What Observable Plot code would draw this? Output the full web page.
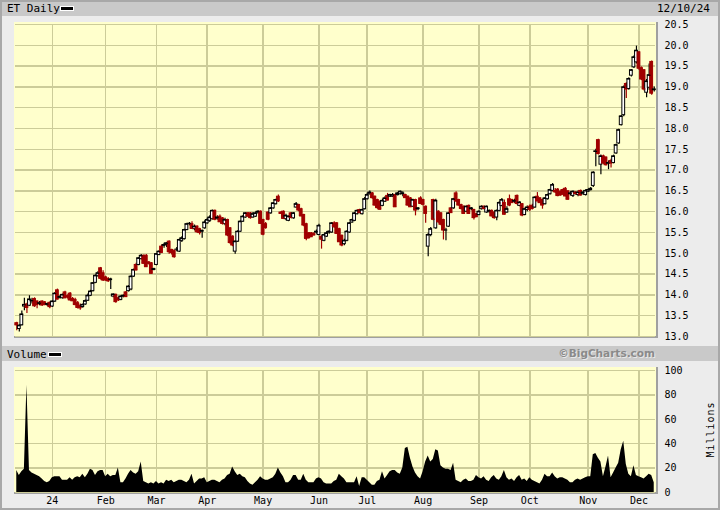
<!DOCTYPE html>
<html><head><meta charset="utf-8">
<script src="https://cdn.jsdelivr.net/npm/d3@7"></script>
<script src="https://cdn.jsdelivr.net/npm/@observablehq/plot@0.6"></script>
<style>
html,body{margin:0;padding:0;background:#ececec;}
#root{position:relative;width:720px;height:510px;overflow:hidden;background:#ececec;font-family:"DejaVu Sans Mono",monospace;font-size:10px;color:#000;}
.abs{position:absolute;}
.bar{background:#c9c9c9;left:0;width:720px;}
.plotbg{background:#ffffcc;}
.sw{background:#000;border:1px solid #fff;width:12px;height:3px;}
svg{position:absolute;left:0;}
</style></head><body><div id="root">
<div class="abs bar" style="top:0;height:16px"></div>
<div class="abs" style="left:7px;top:2px;font-size:11px">ET Daily</div>
<div class="abs sw" style="left:60px;top:6px"></div>
<div class="abs" style="left:657px;top:2px;font-size:11px">12/10/24</div>
<div class="abs plotbg" style="left:14px;top:22px;width:642px;height:314px"></div>
<div class="abs" style="left:656px;top:22px;width:2px;height:316px;background:#a0a0a0"></div>
<div class="abs" style="left:14px;top:336px;width:644px;height:2px;background:#a0a0a0"></div>
<div class="abs bar" style="top:346px;height:15px"></div>
<div class="abs" style="left:7px;top:348px;font-size:11px">Volume</div>
<div class="abs sw" style="left:48px;top:352px"></div>
<div class="abs" style="left:540px;width:115px;text-align:right;top:347px;font-family:'DejaVu Sans',sans-serif;font-weight:bold;font-size:10.5px;color:#8a8a8a;text-shadow:1px 1px 0 #e8e8e8">©BigCharts.com</div>
<div class="abs plotbg" style="left:14px;top:367px;width:642px;height:125px"></div>
<div class="abs" style="left:656px;top:367px;width:2px;height:127px;background:#a0a0a0"></div>
<div class="abs" style="left:14px;top:492px;width:644px;height:2px;background:#a0a0a0"></div>
<div class="abs" style="left:680px;top:424px;width:60px;text-align:center;transform:rotate(-90deg);font-size:10px;letter-spacing:1px">Millions</div>
<div class="abs" style="left:0;top:0;width:716px;height:506px;border:2px solid #a8a8a8;pointer-events:none"></div>
</div>
<script>
// ---- data ----
const startDate = "2023-12-11";
const holidays = ["2023-12-25","2024-01-01","2024-01-15","2024-02-19","2024-03-29","2024-05-27","2024-06-19","2024-07-04","2024-09-02","2024-11-28"];
const open = [13.32,13.18,13.27,13.72,13.77,13.74,13.85,13.90,13.84,13.79,13.84,13.82,13.76,13.81,13.72,13.84,14.11,13.93,13.92,14.06,13.97,14.03,13.90,13.88,13.80,13.74,13.71,13.77,13.86,13.98,14.09,14.29,14.46,14.64,14.52,14.42,14.38,14.36,13.96,14.00,13.92,13.88,13.96,14.06,14.09,14.13,14.44,14.72,14.72,14.86,14.94,14.94,14.78,14.76,14.60,14.72,14.96,15.16,15.18,15.20,15.28,15.08,15.06,15.10,15.04,15.30,15.34,15.56,15.72,15.70,15.58,15.64,15.58,15.52,15.60,15.72,15.78,15.82,16.02,15.82,15.88,15.84,15.70,15.80,15.60,15.40,15.04,15.28,15.52,15.76,15.86,15.96,15.96,15.86,15.88,15.98,16.00,15.80,15.70,15.98,15.96,16.08,16.18,16.36,15.98,16.00,15.82,15.78,15.96,15.84,16.10,16.16,16.06,15.92,15.70,15.48,15.48,15.46,15.50,15.44,15.40,15.30,15.40,15.50,15.50,15.72,15.72,15.58,15.42,15.22,15.30,15.50,15.74,15.78,15.94,16.04,15.94,16.06,16.30,16.42,16.44,16.36,16.28,16.24,16.14,16.24,16.38,16.36,16.36,16.40,16.40,16.42,16.42,16.40,16.36,16.32,16.12,16.28,16.06,16.32,16.28,16.12,15.16,15.44,16.28,15.60,16.00,15.96,15.80,15.56,15.64,16.08,16.08,16.44,16.28,16.16,16.12,16.00,16.14,16.06,16.04,15.94,15.92,16.06,16.12,15.98,16.00,16.02,15.98,15.86,16.02,16.14,16.21,15.98,16.30,16.28,16.24,16.38,16.14,16.18,15.92,16.04,16.12,16.14,16.10,16.36,16.32,16.28,16.18,16.30,16.42,16.50,16.50,16.53,16.48,16.52,16.55,16.49,16.42,16.38,16.46,16.40,16.50,16.42,16.40,16.48,16.52,16.62,17.44,17.72,17.13,17.33,17.30,17.16,17.22,17.17,17.40,17.64,18.08,18.32,19.07,18.95,19.27,19.47,19.59,19.83,19.45,19.40,18.86,18.98,19.60,18.92];
const high = [13.34,13.28,13.61,13.92,13.80,13.98,13.92,13.93,13.86,13.84,13.86,13.84,13.80,13.83,13.86,14.06,14.14,13.98,14.02,14.09,14.00,14.06,13.94,13.92,13.84,13.78,13.78,13.88,14.02,14.11,14.30,14.48,14.56,14.66,14.58,14.45,14.42,14.40,14.02,14.02,13.95,13.98,14.00,14.08,14.22,14.46,14.62,14.76,14.90,14.97,14.96,14.97,14.80,14.78,14.64,15.00,15.06,15.20,15.24,15.26,15.30,15.10,15.08,15.14,15.34,15.40,15.58,15.72,15.74,15.76,15.68,15.66,15.60,15.56,15.78,15.84,15.90,16.04,16.04,15.90,15.92,15.86,15.84,15.82,15.62,15.42,15.30,15.54,15.78,15.90,15.98,15.98,15.98,15.98,15.99,16.02,16.02,15.82,15.74,16.00,16.10,16.22,16.30,16.40,16.00,16.02,15.94,15.90,15.98,15.98,16.22,16.18,16.08,15.94,15.72,15.50,15.50,15.50,15.56,15.70,15.42,15.46,15.52,15.54,15.74,15.76,15.74,15.60,15.44,15.34,15.54,15.74,15.82,15.98,16.04,16.06,16.06,16.34,16.44,16.50,16.46,16.38,16.30,16.26,16.30,16.36,16.44,16.42,16.44,16.42,16.46,16.50,16.48,16.42,16.38,16.34,16.30,16.30,16.10,16.36,16.30,16.14,15.48,15.62,16.30,16.30,16.02,15.98,15.82,15.60,15.98,16.10,16.32,16.48,16.30,16.18,16.14,16.14,16.16,16.10,16.06,15.96,16.02,16.14,16.14,16.14,16.04,16.04,16.00,16.04,16.24,16.32,16.28,16.12,16.40,16.30,16.30,16.40,16.24,16.20,16.08,16.14,16.16,16.18,16.36,16.46,16.34,16.30,16.34,16.42,16.54,16.68,16.56,16.56,16.50,16.54,16.58,16.50,16.48,16.50,16.48,16.50,16.52,16.48,16.53,16.54,16.58,16.96,17.50,17.74,17.36,17.36,17.32,17.22,17.26,17.36,17.62,17.98,18.31,19.02,19.10,19.22,19.42,19.74,19.98,19.85,19.48,19.42,19.18,19.55,19.62,19.00];
const low = [13.14,13.11,13.25,13.62,13.55,13.72,13.78,13.70,13.67,13.74,13.72,13.74,13.72,13.67,13.70,13.82,13.88,13.90,13.90,13.92,13.90,13.86,13.84,13.74,13.66,13.63,13.68,13.75,13.84,13.96,14.07,14.27,14.42,14.36,14.32,14.33,14.30,14.13,13.93,13.80,13.84,13.86,13.93,13.94,14.07,14.10,14.42,14.58,14.70,14.84,14.74,14.66,14.72,14.50,14.58,14.70,14.94,15.00,15.12,15.14,14.98,14.96,14.88,15.04,15.02,15.26,15.32,15.54,15.66,15.58,15.54,15.48,15.44,15.36,15.58,15.70,15.74,15.80,15.78,15.80,15.74,15.68,15.66,15.40,15.22,15.16,14.98,15.26,15.50,15.74,15.84,15.86,15.82,15.84,15.86,15.94,15.70,15.42,15.58,15.78,15.94,16.06,16.16,16.22,15.94,15.82,15.78,15.76,15.84,15.82,16.08,16.00,15.88,15.64,15.30,15.34,15.38,15.42,15.46,15.42,15.10,15.28,15.38,15.46,15.48,15.60,15.46,15.26,15.16,15.18,15.28,15.48,15.72,15.76,15.92,15.96,15.92,16.04,16.28,16.40,16.30,16.14,16.06,16.04,16.12,16.22,16.26,16.34,16.34,16.10,16.38,16.40,16.36,16.32,16.14,16.10,16.10,15.90,16.02,16.18,16.14,15.72,14.92,15.40,15.78,15.58,15.72,15.66,15.32,15.30,15.62,15.96,16.06,16.22,16.14,16.04,15.94,15.98,15.94,16.02,15.80,15.86,15.90,16.04,16.04,15.96,15.96,15.88,15.82,15.78,16.00,16.12,15.92,15.96,16.12,16.20,16.20,16.16,16.12,15.88,15.90,16.00,16.00,16.04,16.08,16.24,16.20,16.06,16.16,16.28,16.40,16.48,16.44,16.36,16.38,16.40,16.36,16.28,16.38,16.34,16.40,16.36,16.38,16.40,16.38,16.46,16.50,16.58,17.08,17.36,16.89,17.14,17.10,17.01,17.05,17.15,17.38,17.62,18.06,18.28,18.72,18.92,19.24,19.44,19.55,19.40,19.15,18.90,18.74,18.92,18.80,18.88];
const close = [13.28,13.26,13.53,13.76,13.70,13.89,13.86,13.74,13.77,13.80,13.76,13.77,13.78,13.72,13.84,14.03,13.90,13.95,14.00,13.93,13.95,13.88,13.86,13.77,13.70,13.69,13.76,13.85,13.98,14.08,14.28,14.46,14.52,14.40,14.36,14.36,14.34,14.37,14.01,13.84,13.88,13.96,13.98,13.96,14.20,14.44,14.60,14.60,14.88,14.94,14.76,14.68,14.76,14.52,14.62,14.98,15.04,15.02,15.20,15.24,15.04,15.02,14.92,15.10,15.32,15.36,15.56,15.70,15.72,15.60,15.64,15.52,15.50,15.54,15.74,15.80,15.86,16.02,15.82,15.86,15.76,15.72,15.80,15.44,15.26,15.20,15.28,15.52,15.76,15.88,15.96,15.90,15.86,15.94,15.96,16.00,15.72,15.46,15.62,15.82,16.08,16.20,16.28,16.26,15.96,15.84,15.90,15.88,15.86,15.96,16.18,16.04,15.90,15.68,15.36,15.38,15.40,15.44,15.52,15.66,15.34,15.44,15.48,15.52,15.72,15.64,15.48,15.28,15.20,15.30,15.52,15.72,15.80,15.96,16.02,15.98,16.04,16.30,16.40,16.46,16.34,16.16,16.10,16.06,16.26,16.32,16.28,16.40,16.40,16.12,16.44,16.48,16.44,16.34,16.16,16.12,16.28,16.04,16.08,16.20,16.18,15.96,15.44,15.58,15.82,16.26,15.76,15.70,15.56,15.56,15.96,15.98,16.30,16.26,16.16,16.08,15.96,16.12,15.96,16.08,15.86,15.88,16.00,16.12,16.08,16.12,16.02,15.90,15.86,16.02,16.21,16.28,15.94,16.06,16.16,16.22,16.26,16.20,16.22,15.92,16.06,16.10,16.06,16.08,16.34,16.26,16.22,16.16,16.32,16.40,16.52,16.64,16.48,16.39,16.40,16.42,16.38,16.30,16.44,16.48,16.44,16.46,16.40,16.46,16.50,16.52,16.55,16.94,17.45,17.40,17.33,17.17,17.13,17.17,17.17,17.33,17.60,17.96,18.29,18.99,18.95,19.19,19.40,19.71,19.87,19.45,19.19,18.95,19.13,19.28,18.85,18.94];
const volume = [18,14,17,19,88,18,16,15,14,13,11,9,8,9,12,13,13,13,10,10,10,12,10,12,13,12,15,12,15,19,18,14,17,18,18,13,15,13,14,14,20,8,8,11,15,18,16,15,17,25,9,8,7,8,7,9,7,8,7,10,9,10,8,9,10,10,9,8,10,15,7,9,11,11,12,8,9,10,10,9,8,10,11,14,15,21,17,14,
15,13,12,9,7,6,8,10,13,11,10,10,11,12,15,20,16,13,8,8,10,14,14,10,10,15,10,8,8,8,11,12,11,8,7,7,7,9,10,15,13,11,8,8,8,8,13,5,12,12,10,8,6,6,9,10,17,11,14,17,18,18,16,15,20,36,37,28,21,16,13,11,17,25,30,25,27,35,34,22,20,19,19,18,24,10,9,8,10,11,9,9,10,14,
12,11,13,10,9,12,14,11,10,13,18,12,10,11,9,12,14,10,11,9,12,10,9,8,
7,10,15,13,13,16,13,11,12,12,11,10,8,8,10,11,10,11,12,13,13,31,32,28,25,13,21,30,12,16,20,24,35,42,23,15,13,22,14,13,12,11,13,15,14,8];
const priceTicks = [13.0,13.5,14.0,14.5,15.0,15.5,16.0,16.5,17.0,17.5,18.0,18.5,19.0,19.5,20.0,20.5];
const volumeTicks = [0,20,40,60,80,100];
const monthNames = ["24","Feb","Mar","Apr","May","Jun","Jul","Aug","Sep","Oct","Nov","Dec"];

// ---- trading-day calendar ----
const hol = new Set(holidays);
const dates = [];
for (let d = new Date(startDate + "T12:00:00Z"); dates.length < close.length; d.setUTCDate(d.getUTCDate() + 1)) {
  const wd = d.getUTCDay();
  const s = d.toISOString().slice(0, 10);
  if (wd === 0 || wd === 6 || hol.has(s)) continue;
  dates.push(s);
}
const monthStarts = [], monthLabel = new Map();
dates.forEach((s, i) => {
  if (i > 0 && s.slice(5, 7) !== dates[i - 1].slice(5, 7) && s.slice(0, 4) === "2024") {
    monthStarts.push(i);
    monthLabel.set(i, monthNames[+s.slice(5, 7) - 1]);
  }
});

const candles = close.map((c, i) => ({i, open: open[i], high: high[i], low: low[i], close: c, up: c >= open[i]}));
const vols = volume.map((v, i) => ({i, vol: v}));

const RED = "#a00000", GRID = "#cccc99";
const font = {background: "transparent", fontFamily: "DejaVu Sans Mono, monospace", fontSize: "10px", color: "#000", overflow: "visible"};

const price = Plot.plot({
  width: 720, height: 345,
  marginLeft: 15, marginRight: 65, marginTop: 24, marginBottom: 9,
  style: font,
  x: {domain: [-0.5, 251.5], axis: null},
  y: {domain: [13, 20.5], axis: "right", ticks: priceTicks, tickFormat: d => d.toFixed(1), tickSize: 0, tickPadding: 9, label: null},
  marks: [
    Plot.ruleY(priceTicks, {stroke: GRID, strokeWidth: 1.5, shapeRendering: "crispEdges"}),
    Plot.ruleX(monthStarts, {stroke: GRID, strokeWidth: 1.5, shapeRendering: "crispEdges"}),
    Plot.ruleX(candles, {x: "i", y1: "low", y2: "high", stroke: d => d.up ? "#000" : RED, strokeWidth: 1.2}),
    Plot.rect(candles, {x1: d => d.i - 0.55, x2: d => d.i + 0.55, y1: "open", y2: "close", fill: d => d.up ? "#fff" : RED, stroke: d => d.up ? "#000" : RED, strokeWidth: 1}),
    Plot.ruleY(candles, {x1: d => d.i - 0.7, x2: d => d.i + 0.7, y: "close", stroke: d => d.up ? "#000" : RED, strokeWidth: 1.2})
  ]
});
price.style.top = "0px";
document.getElementById("root").appendChild(price);

const vol = Plot.plot({
  width: 720, height: 150,
  marginLeft: 15, marginRight: 65, marginTop: 10, marginBottom: 18,
  style: font,
  x: {domain: [-0.5, 251.5], axis: "bottom", ticks: monthStarts, tickFormat: d => monthLabel.get(d), tickSize: 0, tickPadding: 4, label: null},
  y: {domain: [0, 100], axis: "right", ticks: volumeTicks, tickSize: 0, tickPadding: 9, label: null},
  marks: [
    Plot.ruleY(volumeTicks, {stroke: GRID, strokeWidth: 1.5, shapeRendering: "crispEdges"}),
    Plot.ruleX(monthStarts, {stroke: GRID, strokeWidth: 1.5, shapeRendering: "crispEdges"}),
    Plot.areaY(vols, {x: "i", y: "vol", fill: "#000"})
  ]
});
vol.style.top = "360px";
document.getElementById("root").appendChild(vol);
</script></body></html>
